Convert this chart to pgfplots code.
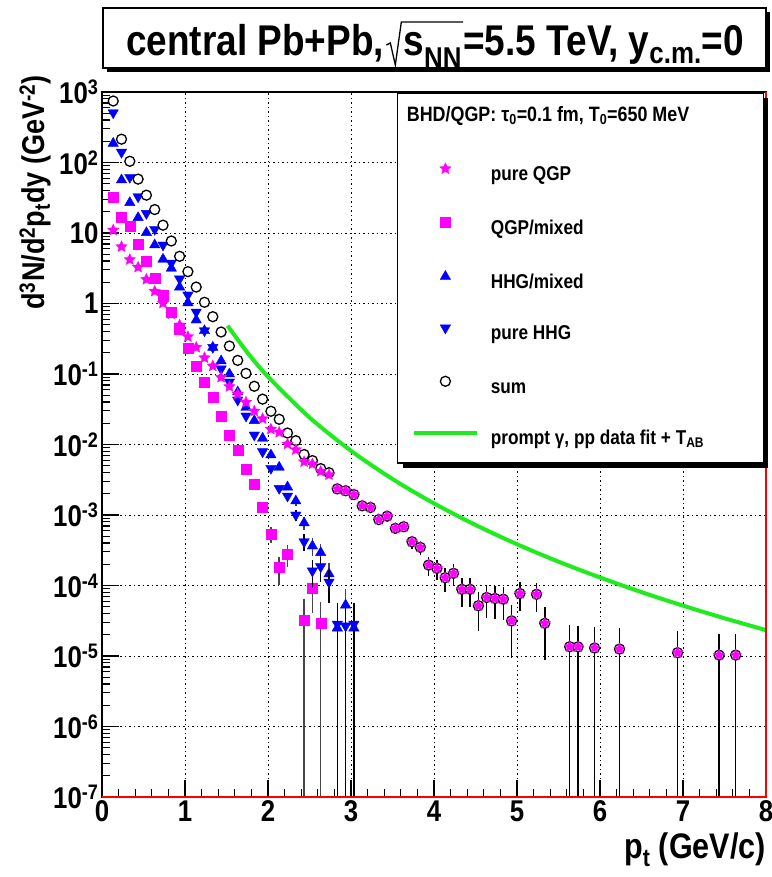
\documentclass[border=0pt]{standalone}
\usepackage{fontspec}
\setmainfont{Liberation Sans}[FakeStretch=0.86]
\usepackage{pgfplots}
\pgfplotsset{compat=1.18}
\definecolor{rmag}{rgb}{1,0,1}
\definecolor{rblue}{rgb}{0,0,1}
\definecolor{rgreen}{rgb}{0.12,0.92,0.12}
\pgfdeclareplotmark{fstar}{%
  \pgfpathmoveto{\pgfpointpolar{90}{\pgfplotmarksize}}%
  \pgfpathlineto{\pgfpointpolar{126}{0.47*\pgfplotmarksize}}%
  \pgfpathlineto{\pgfpointpolar{162}{\pgfplotmarksize}}%
  \pgfpathlineto{\pgfpointpolar{198}{0.47*\pgfplotmarksize}}%
  \pgfpathlineto{\pgfpointpolar{234}{\pgfplotmarksize}}%
  \pgfpathlineto{\pgfpointpolar{270}{0.47*\pgfplotmarksize}}%
  \pgfpathlineto{\pgfpointpolar{306}{\pgfplotmarksize}}%
  \pgfpathlineto{\pgfpointpolar{342}{0.47*\pgfplotmarksize}}%
  \pgfpathlineto{\pgfpointpolar{18}{\pgfplotmarksize}}%
  \pgfpathlineto{\pgfpointpolar{54}{0.47*\pgfplotmarksize}}%
  \pgfpathclose
  \pgfusepathqfillstroke}
\newcommand\tfont{\fontsize{30}{32}\selectfont\bfseries}
\newcommand\ttlfont{\fontsize{31.5}{33}\selectfont\bfseries}
\newcommand\xtlfont{\fontsize{35.5}{37}\selectfont\bfseries}
\newcommand\lfont{\fontsize{20}{22}\selectfont\bfseries}
\newcommand\hfont{\fontsize{43}{44}\selectfont\bfseries}
\begin{document}
\begin{tikzpicture}
\begin{axis}[
  at={(102pt,80pt)}, anchor=south west,
  width=664pt, height=705pt, scale only axis,
  clip mode=individual,
  xmin=0, xmax=8, ymode=log, ymin=1e-7, ymax=1e3,
  xtick={0,1,2,3,4,5,6,7,8},
  xticklabels={0,1,2,3,4,5,6,7,8},
  minor x tick num=4,
  ytickten={-7,-6,-5,-4,-3,-2,-1,0,1,2,3},
  yticklabels={10\textsuperscript{-7},10\textsuperscript{-6},10\textsuperscript{-5},10\textsuperscript{-4},10\textsuperscript{-3},10\textsuperscript{-2},10\textsuperscript{-1},1,10,10\textsuperscript{2},10\textsuperscript{3}},
  minor ytick={2e-7,3e-7,4e-7,5e-7,6e-7,7e-7,8e-7,9e-7,
    2e-6,3e-6,4e-6,5e-6,6e-6,7e-6,8e-6,9e-6,
    2e-5,3e-5,4e-5,5e-5,6e-5,7e-5,8e-5,9e-5,
    2e-4,3e-4,4e-4,5e-4,6e-4,7e-4,8e-4,9e-4,
    2e-3,3e-3,4e-3,5e-3,6e-3,7e-3,8e-3,9e-3,
    0.02,0.03,0.04,0.05,0.06,0.07,0.08,0.09,
    0.2,0.3,0.4,0.5,0.6,0.7,0.8,0.9,
    2,3,4,5,6,7,8,9,20,30,40,50,60,70,80,90,200,300,400,500,600,700,800,900},
  tick pos=left, tick align=inside,
  major tick length=17pt, minor tick length=8pt,
  every tick/.style={black, line width=1.2pt},
  ticklabel style={font=\tfont},
  grid=major,
  major grid style={black, line width=0.9pt, dash pattern=on 1.5pt off 3pt},
  minor grid style={draw=none},
  axis line style={line width=1.6pt},
  legend cell align=left,
  legend image code/.code={\draw[mark repeat=2,mark phase=2,#1] plot coordinates {(0pt,7pt) (31.5pt,7pt) (63pt,7pt)};},
  legend style={at={(0.4664,0.9)}, anchor=north west, draw=none, fill=none,
    inner sep=0pt, font=\lfont, /tikz/row sep=31.4pt, /tikz/column sep=12pt,
    nodes={inner sep=0pt, text height=15pt, text depth=5pt}},
]
% prompt photons
\addplot[forget plot, rgreen, line width=4pt, smooth] coordinates {
(1.513,0.484)(1.75,0.203)(2.0,0.0916)(2.5,0.0242)(3.0,0.00814)(3.5,0.00324)(4.0,0.00146)(4.5,7.23e-4)(5.0,3.85e-4)(5.5,2.18e-4)(6.0,1.30e-4)(6.5,8.05e-5)(7.0,5.18e-5)(7.5,3.43e-5)(8.0,2.33e-5)};
% QGP/mixed
\addplot[forget plot, only marks, mark=square*, mark size=5pt, color=rmag, mark options={draw=rmag, fill=rmag, line width=0.4pt},
  error bars/.cd, y dir=both, y explicit relative, error mark=none, error bar style={line width=1.5pt, gray!55!black}] coordinates {
(0.135,32.7)(0.235,17.0)(0.335,12.3)(0.435,6.87)(0.535,4.03)(0.635,2.26)(0.735,1.30)(0.835,0.750)(0.935,0.435)(1.035,0.232)(1.135,0.130)(1.235,0.0753)(1.335,0.0468)(1.435,0.0248)(1.535,0.01364)(1.635,0.00817)(1.735,0.00445)(1.835,0.00272)(1.935,0.00130)
(2.035,5.37e-4) +- (0,0.26) (2.135,1.79e-4) +- (0,0.44) (2.235,2.78e-4) +- (0,0.34) (2.435,3.24e-5) +- (0,0.999) (2.535,9.12e-5) +- (0,0.56) (2.635,2.91e-5) +- (0,0.999)};
% HHG/mixed
\addplot[forget plot, only marks, mark=triangle*, mark size=6pt, color=rblue, mark options={draw=rblue, fill=rblue, line width=0.4pt},
  error bars/.cd, y dir=both, y explicit relative, error mark=none, error bar style={line width=1.5pt, gray!55!black}] coordinates {
(0.135,187)(0.235,56.5)(0.335,26.9)(0.435,16.5)(0.535,10.1)(0.635,6.76)(0.735,4.24)(0.835,3.16)(0.935,1.71)(1.035,1.02)(1.135,0.583)(1.235,0.411)(1.335,0.239)(1.435,0.153)(1.535,0.100)(1.635,0.0556)(1.735,0.0335)(1.835,0.0218)(1.935,0.01225)(2.035,0.00710)(2.135,0.00475)(2.235,0.00249)
(2.335,0.00158) +- (0,0.14) (2.435,7.71e-4) +- (0,0.2) (2.535,3.63e-4) +- (0,0.28) (2.635,2.92e-4) +- (0,0.31) (2.735,1.46e-4) +- (0,0.43) (2.835,2.49e-5) +- (0,0.999) (2.935,5.28e-5) +- (0,0.707) (3.035,2.49e-5) +- (0,0.999)};
% pure HHG
\addplot[forget plot, only marks, mark=triangle*, mark size=6pt, color=rblue, mark options={draw=rblue, fill=rblue, line width=0.4pt, rotate=180},
  error bars/.cd, y dir=both, y explicit relative, error mark=none, error bar style={line width=1.5pt, black}] coordinates {
(0.135,508)(0.235,140)(0.335,61.7)(0.435,32.7)(0.535,19.0)(0.635,11.3)(0.735,6.76)(0.835,3.75)(0.935,2.23)(1.035,1.32)(1.135,0.757)(1.235,0.411)(1.335,0.239)(1.435,0.118)(1.535,0.0771)(1.635,0.0428)(1.735,0.0254)(1.835,0.01364)(1.935,0.00791)(2.035,0.00460)(2.135,0.00239)(2.235,0.00186)
(2.335,0.00100) +- (0,0.18) (2.435,4.18e-4) +- (0,0.27) (2.535,1.61e-4) +- (0,0.42) (2.635,1.85e-4) +- (0,0.39) (2.735,1.12e-4) +- (0,0.49) (2.835,2.84e-5) +- (0,0.999) (2.935,2.67e-5) +- (0,0.999) (3.035,2.84e-5) +- (0,0.999)};
% sum
\addplot[forget plot, only marks, mark=*, mark size=5pt, mark options={draw=black, fill=white, line width=1.3pt},
  error bars/.cd, y dir=both, y explicit relative, error mark=none, error bar style={line width=1.5pt, black}] coordinates {
(0.135,745)(0.235,214)(0.335,104)(0.435,58.1)(0.535,34.4)(0.635,21.5)(0.735,12.9)(0.835,7.7)(0.935,4.67)(1.035,2.83)(1.135,1.71)(1.235,1.04)(1.335,0.650)(1.435,0.394)(1.535,0.249)(1.635,0.156)(1.735,0.102)(1.835,0.0670)(1.935,0.0440)(2.035,0.0296)(2.135,0.0228)(2.235,0.01455)(2.335,0.01132)(2.435,0.00721)(2.535,0.00591)(2.635,0.00455)(2.735,0.00398)(2.835,0.00235)(2.935,0.00221)(3.035,0.00195)
(3.135,1.35e-3) +- (0,0.13) (3.235,1.28e-3) +- (0,0.13) (3.335,8.61e-4) +- (0,0.16) (3.435,9.62e-4) +- (0,0.15) (3.535,6.47e-4) +- (0,0.18) (3.635,6.82e-4) +- (0,0.17) (3.735,4.18e-4) +- (0,0.22) (3.835,3.48e-4) +- (0,0.23) (3.935,1.95e-4) +- (0,0.31) (4.035,1.75e-4) +- (0,0.32) (4.135,1.29e-4) +- (0,0.37) (4.235,1.49e-4) +- (0,0.34) (4.335,8.83e-5) +- (0,0.44) (4.435,8.83e-5) +- (0,0.43) (4.535,5.17e-5) +- (0,0.56) (4.635,6.76e-5) +- (0,0.48) (4.735,6.55e-5) +- (0,0.49) (4.835,6.40e-5) +- (0,0.49) (4.935,3.15e-5) +- (0,0.70) (5.035,7.70e-5) +- (0,0.44) (5.235,7.50e-5) +- (0,0.43) (5.335,2.91e-5) +- (0,0.70) (5.635,1.355e-5) +- (0,0.999) (5.735,1.35e-5) +- (0,0.999) (5.935,1.30e-5) +- (0,0.999) (6.235,1.256e-5) +- (0,0.999) (6.935,1.114e-5) +- (0,0.999) (7.435,1.03e-5) +- (0,0.999) (7.635,1.03e-5) +- (0,0.999)};
% pure QGP
\addplot[forget plot, only marks, mark=fstar, mark size=6pt, color=rmag, mark options={draw=rmag, fill=rmag, line width=0.3pt}] coordinates {
(0.135,11.0)(0.235,6.39)(0.335,4.20)(0.435,3.27)(0.535,2.20)(0.635,1.49)(0.735,1.01)(0.835,0.710)(0.935,0.495)(1.035,0.338)(1.135,0.239)(1.235,0.170)(1.335,0.130)(1.435,0.0897)(1.535,0.0665)(1.635,0.0520)(1.735,0.0398)(1.835,0.0297)(1.935,0.0232)(2.035,0.0165)(2.135,0.0149)(2.235,0.01016)(2.335,0.00844)(2.435,0.00570)(2.535,0.00529)(2.635,0.00416)(2.735,0.00373)(2.835,0.00235)(2.935,0.00221)(3.035,0.00195)
(3.135,1.35e-3)(3.235,1.28e-3)(3.335,8.61e-4)(3.435,9.62e-4)(3.535,6.47e-4)(3.635,6.82e-4)(3.735,4.18e-4)(3.835,3.48e-4)(3.935,1.95e-4)(4.035,1.75e-4)(4.135,1.29e-4)(4.235,1.49e-4)(4.335,8.83e-5)(4.435,8.83e-5)(4.535,5.17e-5)(4.635,6.76e-5)(4.735,6.55e-5)(4.835,6.40e-5)(4.935,3.15e-5)(5.035,7.70e-5)(5.235,7.50e-5)(5.335,2.91e-5)(5.635,1.355e-5)(5.735,1.35e-5)(5.935,1.30e-5)(6.235,1.256e-5)(6.935,1.114e-5)(7.435,1.03e-5)(7.635,1.03e-5)};
% red frame sides
\draw[red, line width=1.6pt] (rel axis cs:0,0) -- (rel axis cs:1,0) -- (rel axis cs:1,1);
% legend box with shadow
\fill[black] ([xshift=5pt,yshift=-5pt]rel axis cs:0.4453,0.4738) rectangle ([xshift=5pt,yshift=-5pt]rel axis cs:0.9960,0.9986);
\draw[black, fill=white, line width=1.5pt] (rel axis cs:0.4453,0.4738) rectangle (rel axis cs:0.9960,0.9986);
% legend entries
\addlegendimage{only marks, mark=fstar, mark size=6pt, color=rmag, mark options={draw=rmag, fill=rmag, line width=0.3pt}}
\addlegendentry{pure QGP}
\addlegendimage{only marks, mark=square*, mark size=5pt, color=rmag, mark options={draw=rmag, fill=rmag}}
\addlegendentry{QGP/mixed}
\addlegendimage{only marks, mark=triangle*, mark size=6pt, color=rblue, mark options={draw=rblue, fill=rblue}}
\addlegendentry{HHG/mixed}
\addlegendimage{only marks, mark=triangle*, mark size=6pt, color=rblue, mark options={draw=rblue, fill=rblue, rotate=180}}
\addlegendentry{pure HHG}
\addlegendimage{only marks, mark=*, mark size=5pt, mark options={draw=black, fill=white, line width=1.3pt}}
\addlegendentry{sum}
\addlegendimage{rgreen, line width=4pt}
\addlegendentry{prompt γ, pp data fit + T\textsubscript{AB}}
\end{axis}
% legend header
\node[anchor=base west, font=\fontsize{20.8}{22}\selectfont\bfseries, inner sep=0pt] at (406.7pt,755.3pt) {BHD/QGP: τ\textsubscript{0}=0.1 fm, T\textsubscript{0}=650 MeV};
% title box
\fill[black] (107pt,805pt) rectangle (770pt,865pt);
\draw[black, fill=white, line width=1.5pt] (103pt,809pt) rectangle (766pt,869pt);
\node[anchor=base west, font=\hfont, inner sep=0pt] (t1) at (126pt,821pt) {central Pb+Pb,};
\node[anchor=base west, font=\hfont, inner sep=0pt] (t2) at ([xshift=19pt]t1.base east) {s\textsubscript{NN}};
\node[anchor=base west, font=\hfont, inner sep=0pt] (t3) at ([xshift=1pt]t2.base east) {=5.5 TeV, y\textsubscript{c.m.}=0};
\draw[line width=1.3pt, line join=miter] ([shift={(2pt,11pt)}]t1.base east) -- ([shift={(6pt,13pt)}]t1.base east) -- ([shift={(11pt,-9pt)}]t1.base east) -- ([shift={(17pt,34pt)}]t1.base east) -- ([shift={(1pt,34pt)}]t2.base east);
% axis titles
\node[rotate=90, anchor=base east, font=\ttlfont, inner sep=0pt] at (44pt,802pt) {d\textsuperscript{3}N/d\textsuperscript{2}p\textsubscript{t}dy (GeV\textsuperscript{-2})};
\node[anchor=base east, font=\xtlfont, inner sep=0pt] at (766pt,18pt) {p\textsubscript{t} (GeV/c)};
\pgfresetboundingbox
\path[use as bounding box] (0pt,0pt) rectangle (771pt,877pt);
\end{tikzpicture}
\end{document}
